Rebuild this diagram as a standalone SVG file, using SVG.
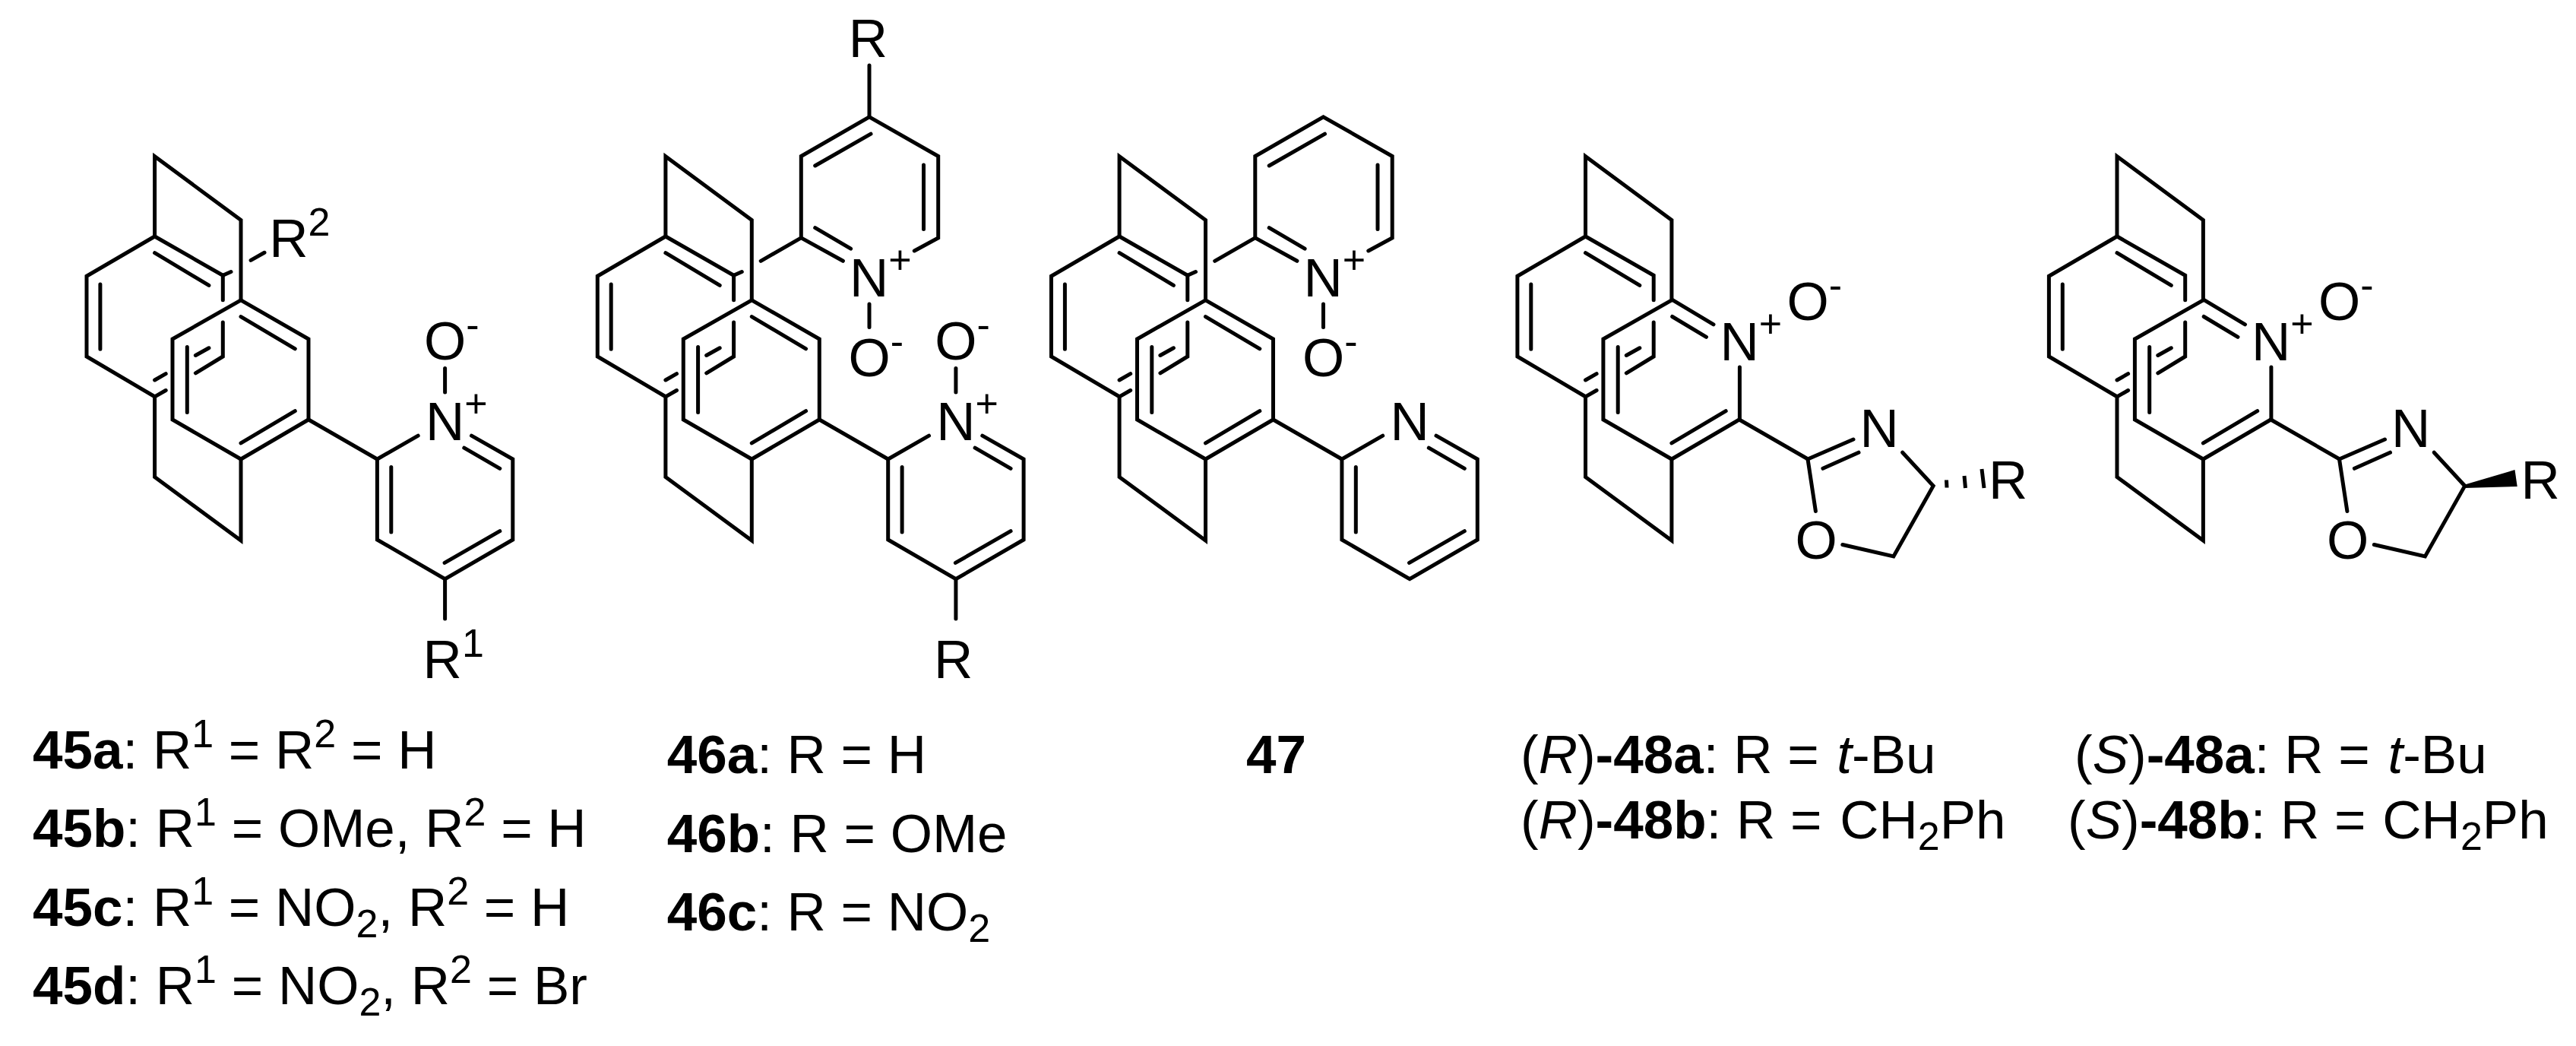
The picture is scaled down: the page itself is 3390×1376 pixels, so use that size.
<svg xmlns="http://www.w3.org/2000/svg" width="3390" height="1376" viewBox="0 0 3390 1376">
<style>
.b{fill:none;stroke:#000;stroke-width:5;stroke-linecap:round;stroke-linejoin:miter;stroke-miterlimit:4}
.h{fill:none;stroke:#000;stroke-width:5;stroke-linecap:butt}
text{font-family:"Liberation Sans",Arial,sans-serif;font-size:71px;fill:#000}
.s{font-size:52px}
.k{font-weight:bold}
.i{font-style:italic}
</style>
<defs>
<g id="cp-core" class="b">
<path d="M203.6 311V205.7L317 289.6V394.8"/>
<path d="M293.3 394.8V362.3L203.6 311L114 363.3V469L203.6 521.8V627.5L317 711V604"/>
<path d="M293.3 424V469L257.4 490.8M257.4 467.5L274.9 457.8M203.6 521.8L218.2 513.5M203.6 500L218.2 491.7"/>
<path d="M203.6 332.7L274.9 375.4M131.9 374V459.3"/>
<path d="M317 394.8L227 446V552L317 604L406 552"/>
<path d="M246.3 456.4V542.6M317 582.9L388.3 540.7"/>
<path d="M406 552L496.4 604"/>
</g>
<g id="cp-carbon" class="b">
<path d="M317 394.8L406 446V552M317 416.6L388.3 458.8M293.3 362.3L304 357.5"/>
</g>
<g id="pyridine" class="b">
<path d="M550.2 573.2L496.4 604V710L585.6 761.7L674.8 710V604L620.5 573.2"/>
<path d="M610.8 589.2L657.8 616.3M657.8 698.7L585.1 740.4M514.8 614.4V700"/>
</g>
<g id="pyridine-oxide">
<use href="#pyridine"/>
<path class="b" d="M585.6 516V484.5"/>
<text x="558" y="473">O<tspan class="s" dy="-28">-</tspan></text>
<text x="560" y="579">N<tspan class="s" dy="-30">+</tspan></text>
</g>
<g id="top-pyridine">
<path class="b" d="M1001.2 343.3L1054.3 312.9V205.5L1144 153.8L1234.7 205.5V312.9L1203.3 330M1054.3 312.9L1109.4 343.3"/>
<path class="b" d="M1072.7 299.7L1119.6 327.2M1215.5 217V301.4M1072.7 218L1146 176.2M1144 400V430.5"/>
<text x="1118" y="390">N<tspan class="s" dy="-30">+</tspan></text>
<text x="1116.4" y="494.5">O<tspan class="s" dy="-28">-</tspan></text>
</g>
<g id="ox-oxide">
<use href="#cp-core"/>
<path class="b" d="M317.8 394.3L372.1 426.8M317.8 416.5L362.6 443.3M406.5 483V552"/>
<path class="b" d="M556.1 578L496.1 604L506.5 672.5M516 616.3L563.1 595.2M620.8 595.2L661.3 639.2L609 731.9L541.9 716.5"/>
<text x="380.6" y="473.5">N<tspan class="s" dy="-30">+</tspan></text>
<text x="468.5" y="421">O<tspan class="s" dy="-28">-</tspan></text>
<text x="564.7" y="588.3">N</text>
<text x="479.6" y="735">O</text>
</g>
</defs>
<rect width="3390" height="1376" fill="#fff"/>

<g id="mol45">
<use href="#cp-core"/><use href="#cp-carbon"/><use href="#pyridine-oxide"/>
<path class="b" d="M330.1 342.4L348 332.3M585.6 761.7V814"/>
<text x="354.3" y="338">R<tspan class="s" dy="-28">2</tspan></text>
<text x="556.6" y="891.6">R<tspan class="s" dy="-28">1</tspan></text>
</g>

<g id="mol46">
<g transform="translate(672.3 0)">
<use href="#cp-core"/><use href="#cp-carbon"/><use href="#pyridine-oxide"/>
<path class="b" d="M585.6 761.7V814"/>
<text x="556.6" y="892">R</text>
</g>
<use href="#top-pyridine"/>
<path class="b" d="M1144 86V153.8"/>
<text x="1116.7" y="74.6">R</text>
</g>

<g id="mol47">
<g transform="translate(1269.5 0)">
<use href="#cp-core"/><use href="#cp-carbon"/><use href="#pyridine"/>
<text x="560" y="578.5">N</text>
</g>
<use href="#top-pyridine" transform="translate(597.5 0)"/>
</g>

<g id="mol48R">
<use href="#ox-oxide" transform="translate(1882.9 0)"/>
<path class="h" d="M2561.5 631.5L2562 641.5M2585 626L2586.5 642M2608 617L2611 642"/>
<text x="2617" y="656">R</text>
</g>

<g id="mol48S">
<use href="#ox-oxide" transform="translate(2582.4 0)"/>
<polygon points="3242,638 3309.5,618 3312.7,640 3243,642" fill="#000"/>
<text x="3317.5" y="656">R</text>
</g>

<g id="captions">
<text x="43" y="1011"><tspan class="k">45a</tspan>: R<tspan class="s" dy="-28">1</tspan><tspan dy="28"> = R</tspan><tspan class="s" dy="-28">2</tspan><tspan dy="28"> = H</tspan></text>
<text x="43" y="1114"><tspan class="k">45b</tspan>: R<tspan class="s" dy="-28">1</tspan><tspan dy="28"> = OMe, R</tspan><tspan class="s" dy="-28">2</tspan><tspan dy="28"> = H</tspan></text>
<text x="43" y="1218"><tspan class="k">45c</tspan>: R<tspan class="s" dy="-28">1</tspan><tspan dy="28"> = NO</tspan><tspan class="s" dy="15">2</tspan><tspan dy="-15">, R</tspan><tspan class="s" dy="-28">2</tspan><tspan dy="28"> = H</tspan></text>
<text x="43" y="1321"><tspan class="k">45d</tspan>: R<tspan class="s" dy="-28">1</tspan><tspan dy="28"> = NO</tspan><tspan class="s" dy="15">2</tspan><tspan dy="-15">, R</tspan><tspan class="s" dy="-28">2</tspan><tspan dy="28"> = Br</tspan></text>
<text x="877.7" y="1017"><tspan class="k">46a</tspan>: R = H</text>
<text x="877.7" y="1121"><tspan class="k">46b</tspan>: R = OMe</text>
<text x="877.7" y="1224"><tspan class="k">46c</tspan>: R = NO<tspan class="s" dy="15">2</tspan></text>
<text x="1640" y="1017" class="k">47</text>
<text x="2001" y="1017">(<tspan class="i">R</tspan>)<tspan class="k">-48a</tspan>: R = <tspan class="i" dx="4">t</tspan>-Bu</text>
<text x="2001" y="1103">(<tspan class="i">R</tspan>)<tspan class="k">-48b</tspan>: R = <tspan dx="4">CH</tspan><tspan class="s" dy="15">2</tspan><tspan dy="-15">Ph</tspan></text>
<text x="2730" y="1017">(<tspan class="i">S</tspan>)<tspan class="k">-48a</tspan>: R = <tspan class="i" dx="4">t</tspan>-Bu</text>
<text x="2721" y="1103">(<tspan class="i">S</tspan>)<tspan class="k">-48b</tspan>: R = <tspan dx="2">CH</tspan><tspan class="s" dy="15">2</tspan><tspan dy="-15">Ph</tspan></text>
</g>
</svg>
